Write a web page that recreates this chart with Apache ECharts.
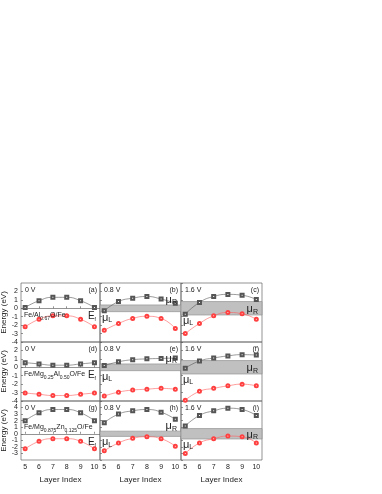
<!DOCTYPE html>
<html>
<head>
<meta charset="utf-8">
<script src="https://cdn.jsdelivr.net/npm/echarts@6/dist/echarts.min.js"></script>
<style>
html, body { margin: 0; padding: 0; background: #fff; }
#main { width: 382px; height: 494px; }
</style>
</head>
<body>
<div id="main"></div>
<script>
// layer index on x, energy (eV) on y
const layers = [5, 6, 7, 8, 9, 10];
const xTicks = [5, 6, 7, 8, 9, 10];
const biasLabels = ['0 V', '0.8 V', '1.6 V'];
const biasValues = [0, 0.8, 1.6];
const panelTags = ['(a)', '(b)', '(c)', '(d)', '(e)', '(f)', '(g)', '(h)', '(i)'];
const materials = [
  'Fe/Al{s|0.67}O/Fe',
  'Fe/Mg{s|0.25}Al{s|0.50}O/Fe',
  'Fe/Mg{s|0.875}Zn{s|0.125}O/Fe'
];

// upper (black squares) and lower (red circles) levels per panel
const aUpper = [0.1, 0.9, 1.3, 1.3, 0.9, 0.1];
const aLower = [-2.2, -1.3, -0.9, -0.9, -1.3, -2.2];
const bUpper = [-0.3, 0.8, 1.2, 1.4, 1.1, 0.6];
const bLower = [-2.6, -1.8, -1.2, -0.95, -1.2, -2.4];
const cUpper = [-0.7, 0.7, 1.4, 1.65, 1.55, 1.05];
const cLower = [-3.0, -1.8, -0.9, -0.5, -0.65, -1.3];
const dUpper = [0.55, 0.4, 0.25, 0.25, 0.4, 0.55];
const dLower = [-3.05, -3.2, -3.35, -3.35, -3.2, -3.05];
const eUpper = [0.2, 0.65, 0.9, 1.0, 1.05, 1.1];
const eLower = [-3.4, -2.95, -2.7, -2.6, -2.5, -2.6];
const fUpper = [-0.1, 0.75, 1.1, 1.35, 1.5, 1.45];
const fLower = [-3.9, -2.85, -2.5, -2.2, -2.0, -2.2];
const gUpper = [2.0, 3.2, 3.7, 3.7, 3.2, 2.0];
const gLower = [-2.3, -1.15, -0.75, -0.75, -1.15, -2.3];
const hUpper = [1.7, 3.0, 3.5, 3.7, 3.3, 2.2];
const hLower = [-2.6, -1.4, -0.7, -0.45, -0.75, -1.9];
const iUpper = [1.2, 2.8, 3.5, 3.9, 3.7, 2.8];
const iLower = [-3.0, -1.4, -0.75, -0.35, -0.45, -1.4];

const uppers = [aUpper, bUpper, cUpper, dUpper, eUpper, fUpper, gUpper, hUpper, iUpper];
const lowers = [aLower, bLower, cLower, dLower, eLower, fLower, gLower, hLower, iLower];

const rowMin = [-4, -4, -4];
const rowMax = [3, 3, 5];

// layout
const colLeft = [21, 100, 181];
const colWidth = [79, 81, 81];
const rowTop = [283, 342, 401];
const rowHeight = 59;
const font = 'Liberation Sans';
const frame = '#666';

const chart = echarts.init(document.getElementById('main'));

function pairs(ys) {
  return layers.map((x, k) => [x, ys[k]]);
}

const grids = [], xAxes = [], yAxes = [], series = [];
for (let i = 0; i < 9; i++) {
  const r = Math.floor(i / 3), c = i % 3;
  grids.push({
    left: colLeft[c], top: rowTop[r], width: colWidth[c], height: rowHeight,
    show: true, borderColor: frame, borderWidth: 0.7, backgroundColor: 'transparent',
    containLabel: false, outerBoundsMode: 'none'
  });
  xAxes.push({
    type: 'value', gridIndex: i, min: 4.7, max: 10.4,
    axisLine: { show: false },
    splitLine: { show: false },
    axisTick: { show: true, inside: true, length: 2, customValues: xTicks, lineStyle: { color: frame, width: 0.7 } },
    axisLabel: { show: r === 2, customValues: xTicks, fontSize: 7, fontFamily: font, color: '#222', margin: 4 },
    name: r === 2 ? 'Layer Index' : '', nameLocation: 'middle', nameGap: 16,
    nameTextStyle: { fontSize: 8, fontFamily: font, color: '#222' }
  });
  yAxes.push({
    type: 'value', gridIndex: i, min: rowMin[r], max: rowMax[r], interval: 1,
    axisLine: { show: false },
    splitLine: { show: false },
    axisTick: { show: true, inside: true, length: 2, lineStyle: { color: frame, width: 0.7 } },
    axisLabel: {
      show: c === 0, fontSize: 7, fontFamily: font, color: '#222', margin: 3,
      showMaxLabel: false, showMinLabel: r !== 2
    },
    name: c === 0 ? 'Energy (eV)' : '', nameLocation: 'middle', nameGap: 11, nameRotate: 90,
    nameTextStyle: { fontSize: 8, fontFamily: font, color: '#222' }
  });

  const upper = {
    type: 'line', xAxisIndex: i, yAxisIndex: i, data: pairs(uppers[i]),
    smooth: true, symbol: 'emptyRect', symbolSize: 3,
    itemStyle: { color: '#555', borderColor: '#555', borderWidth: 0.5 },
    lineStyle: { color: '#555', width: 0.6 },
    z: 3
  };
  if (c === 0) {
    upper.markLine = {
      silent: true, symbol: 'none', label: { show: false },
      lineStyle: { color: frame, width: 0.7, type: 'solid' },
      data: [{ yAxis: 0 }]
    };
  } else {
    const half = biasValues[c] / 2;
    upper.markArea = {
      silent: true,
      itemStyle: { color: '#c0c0c0', borderColor: '#888', borderWidth: 0.6 },
      data: [[{ yAxis: half }, { yAxis: -half }]]
    };
  }
  series.push(upper);
  series.push({
    type: 'line', xAxisIndex: i, yAxisIndex: i, data: pairs(lowers[i]),
    smooth: true, symbol: 'emptyCircle', symbolSize: 3,
    itemStyle: { color: '#ff4040', borderColor: '#ff4040', borderWidth: 0.5 },
    lineStyle: { color: '#ff5a5a', width: 0.6 },
    z: 3
  });
}

chart.setOption({
  animation: false,
  grid: grids,
  xAxis: xAxes,
  yAxis: yAxes,
  series: series
});

// annotations placed through the axes of each panel
const small = { fontSize: 7, fontFamily: font, fill: '#222' };
const rich = {
  m: { fontSize: 11, fontFamily: font, color: '#222', lineHeight: 12 },
  e: { fontSize: 10, fontFamily: font, color: '#222', lineHeight: 12 },
  r: { fontSize: 7, fontFamily: font, color: '#222', lineHeight: 12 },
  s: { fontSize: 5, fontFamily: font, color: '#222', lineHeight: 3, verticalAlign: 'bottom' },
  k: { fontSize: 7, fontFamily: font, color: '#222', lineHeight: 4, verticalAlign: 'bottom' }
};
const graphics = [];
function text(x, y, str, align, vAlign) {
  graphics.push({
    type: 'text', x: x, y: y, silent: true, z: 10,
    style: Object.assign({ text: str, align: align, verticalAlign: vAlign, rich: rich }, small)
  });
}
function formula(str) {
  return '{r|' + str.replace(/\{s\|/g, '}{s|').replace(/\}(?!\{)/g, '}{r|') + '}';
}
for (let i = 0; i < 9; i++) {
  const r = Math.floor(i / 3), c = i % 3;
  const left = colLeft[c], right = colLeft[c] + colWidth[c], top = rowTop[r];
  text(left + 4, top + 4, biasLabels[c], 'left', 'top');
  text(right - 3, top + 4, panelTags[i], 'right', 'top');
  if (c === 0) {
    const y0 = chart.convertToPixel({ gridIndex: i }, [5, 0])[1];
    if (r === 2) {
      text(left + 3, y0 - 1, formula(materials[r]), 'left', 'bottom');
    } else {
      text(left + 3, y0 + 1, formula(materials[r]), 'left', 'top');
    }
    text(right - 4, y0 + 2, '{e|E}{s|f}', 'right', 'top');
  } else {
    const half = biasValues[c] / 2;
    const yTop = chart.convertToPixel({ gridIndex: i }, [5, half])[1];
    const yBot = chart.convertToPixel({ gridIndex: i }, [5, -half])[1];
    if (c === 1) {
      text(right - 4, yTop + 1, '{m|μ}{k|R}', 'right', 'bottom');
    } else {
      text(right - 4, (yTop + yBot) / 2 + 1, '{m|μ}{k|R}', 'right', 'middle');
    }
    text(left + 2, yBot, '{m|μ}{k|L}', 'left', 'top');
  }
}
chart.setOption({ graphic: graphics });
</script>
</body>
</html>
